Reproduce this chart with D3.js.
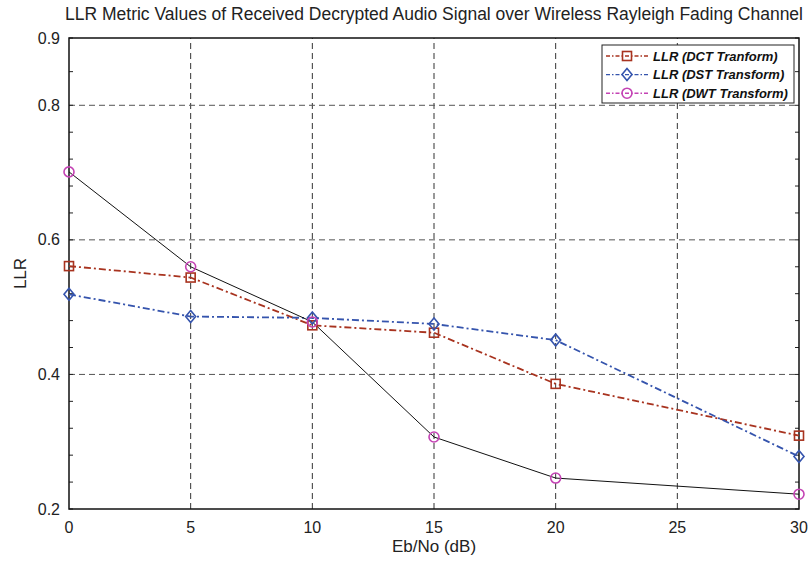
<!DOCTYPE html>
<html lang="en">
<head>
    <meta charset="UTF-8">
    <title>LLR Metric Values</title>
    <style>
        body { margin: 0; background: #fff; }
        svg { display: block; font-family: "Liberation Sans", Arial, sans-serif; }
    </style>
</head>
<body>
<script src="https://d3js.org/d3.v7.min.js"></script>
<script>
    const width = 809
    const height = 567

    // data
    const ebno = [0, 5, 10, 15, 20, 30]
    const dct = [0.561, 0.544, 0.473, 0.462, 0.386, 0.309]
    const dst = [0.519, 0.486, 0.484, 0.475, 0.451, 0.278]
    const dwt = [0.701, 0.560, 0.478, 0.307, 0.246, 0.222]
    const seriesNames = ['LLR (DCT Tranform)', 'LLR (DST Transform)', 'LLR (DWT Transform)']
    const xTicks = [0, 5, 10, 15, 20, 25, 30]
    const yTicks = [0.2, 0.4, 0.6, 0.8, 0.9]
    const yGrid = [0.4, 0.6, 0.8]
    const yMinor = [0.24, 0.28, 0.32, 0.36, 0.44, 0.48, 0.52, 0.56, 0.64, 0.68, 0.72, 0.76, 0.85]

    const margin = { left: 69, right: 10, top: 38, bottom: 58 }
    const x = d3.scaleLinear().domain([0, 30]).range([margin.left, width - margin.right])
    const y = d3.scaleLinear().domain([0.2, 0.9]).range([height - margin.bottom, margin.top])

    const series = [
        { name: seriesNames[0], values: dct, color: '#a8331f', line: '#a8331f', dash: '7,3,2,3', width: 1.8, marker: 'square' },
        { name: seriesNames[1], values: dst, color: '#3554ad', line: '#3554ad', dash: '7,3,2,3', width: 1.8, marker: 'diamond' },
        { name: seriesNames[2], values: dwt, color: '#c443b4', line: '#111', dash: null, width: 1, marker: 'circle' }
    ]

    const svg = d3.select('body').append('svg')
        .attr('width', width)
        .attr('height', height)

    const x0 = x.range()[0], x1 = x.range()[1]
    const y0 = y.range()[0], y1 = y.range()[1]

    // grid
    const grid = svg.append('g')
        .attr('stroke', '#333')
        .attr('stroke-width', 1)
        .attr('stroke-dasharray', '6,4')
    grid.selectAll('.vg')
        .data(xTicks.slice(1, -1))
        .enter().append('line')
        .attr('x1', d => x(d)).attr('x2', d => x(d))
        .attr('y1', y0).attr('y2', y1)
    grid.selectAll('.hg')
        .data(yGrid)
        .enter().append('line')
        .attr('x1', x0).attr('x2', x1)
        .attr('y1', d => y(d)).attr('y2', d => y(d))
        .attr('stroke', '#555')

    // minor + major ticks on left and right
    const ticks = svg.append('g').attr('stroke', '#222').attr('stroke-width', 1)
    ticks.selectAll('.tl')
        .data(yMinor.concat(yTicks))
        .enter().append('line')
        .attr('x1', x0).attr('x2', x0 + 4)
        .attr('y1', d => y(d)).attr('y2', d => y(d))
    ticks.selectAll('.tr')
        .data(yMinor.concat(yTicks))
        .enter().append('line')
        .attr('x1', x1).attr('x2', x1 - 4)
        .attr('y1', d => y(d)).attr('y2', d => y(d))

    // frame
    svg.append('rect')
        .attr('x', x0).attr('y', y1)
        .attr('width', x1 - x0).attr('height', y0 - y1)
        .attr('fill', 'none')
        .attr('stroke', '#111')
        .attr('stroke-width', 1.5)

    // tick labels
    svg.append('g')
        .selectAll('text')
        .data(xTicks)
        .enter().append('text')
        .attr('x', d => x(d))
        .attr('y', y0 + 24)
        .attr('text-anchor', 'middle')
        .attr('font-size', 16)
        .attr('fill', '#222')
        .text(d => d)
    svg.append('g')
        .selectAll('text')
        .data(yTicks)
        .enter().append('text')
        .attr('x', x0 - 9)
        .attr('y', d => y(d))
        .attr('dy', '0.35em')
        .attr('text-anchor', 'end')
        .attr('font-size', 16)
        .attr('fill', '#222')
        .text(d => d3.format('.1f')(d))

    // titles
    svg.append('text')
        .attr('x', (x0 + x1) / 2).attr('y', 20)
        .attr('text-anchor', 'middle')
        .attr('font-size', 17.5)
        .attr('fill', '#222')
        .text('LLR Metric Values of Received Decrypted Audio Signal over Wireless Rayleigh Fading Channel')
    svg.append('text')
        .attr('x', (x0 + x1) / 2).attr('y', 552)
        .attr('text-anchor', 'middle')
        .attr('font-size', 17)
        .attr('fill', '#222')
        .text('Eb/No (dB)')
    svg.append('text')
        .attr('transform', `translate(26, ${ (y0 + y1) / 2 }) rotate(-90)`)
        .attr('text-anchor', 'middle')
        .attr('font-size', 17)
        .attr('fill', '#222')
        .text('LLR')

    function drawMarker(g, type, color) {
        if (type === 'square') {
            g.append('rect').attr('x', -4.5).attr('y', -4.5).attr('width', 9).attr('height', 9)
        } else if (type === 'diamond') {
            g.append('path').attr('d', 'M0,-6L5,0L0,6L-5,0Z')
        } else {
            g.append('circle').attr('r', 5)
        }
        g.selectAll('*')
            .attr('fill', 'none')
            .attr('stroke', color)
            .attr('stroke-width', 1.6)
    }

    // lines and markers
    const line = d3.line()
        .x((d, i) => x(ebno[i]))
        .y(d => y(d))

    series.forEach(s => {
        svg.append('path')
            .attr('d', line(s.values))
            .attr('fill', 'none')
            .attr('stroke', s.line)
            .attr('stroke-width', s.width)
            .attr('stroke-dasharray', s.dash)
    })
    series.forEach(s => {
        svg.append('g')
            .selectAll('g')
            .data(s.values)
            .enter().append('g')
            .attr('transform', (d, i) => `translate(${ x(ebno[i]) }, ${ y(d) })`)
            .each(function () { drawMarker(d3.select(this), s.marker, s.color) })
    })

    // legend
    const legend = svg.append('g').attr('transform', 'translate(602, 45)')
    legend.append('rect')
        .attr('width', 192).attr('height', 58)
        .attr('fill', '#fff')
        .attr('stroke', '#222')
        .attr('stroke-width', 1)
    const item = legend.selectAll('.item')
        .data(series)
        .enter().append('g')
        .attr('transform', (d, i) => `translate(0, ${ 11 + i * 18.6 })`)
    item.append('line')
        .attr('x1', 4).attr('x2', 46)
        .attr('stroke', d => d.color)
        .attr('stroke-width', 1.4)
        .attr('stroke-dasharray', '4,2,1.5,2')
    item.append('g')
        .attr('transform', 'translate(25, 0)')
        .each(function (d) { drawMarker(d3.select(this), d.marker, d.color) })
    item.append('text')
        .attr('x', 51)
        .attr('dy', '0.35em')
        .attr('font-size', 13)
        .attr('font-weight', 'bold')
        .attr('font-style', 'italic')
        .attr('fill', '#111')
        .text(d => d.name)
</script>
</body>
</html>
